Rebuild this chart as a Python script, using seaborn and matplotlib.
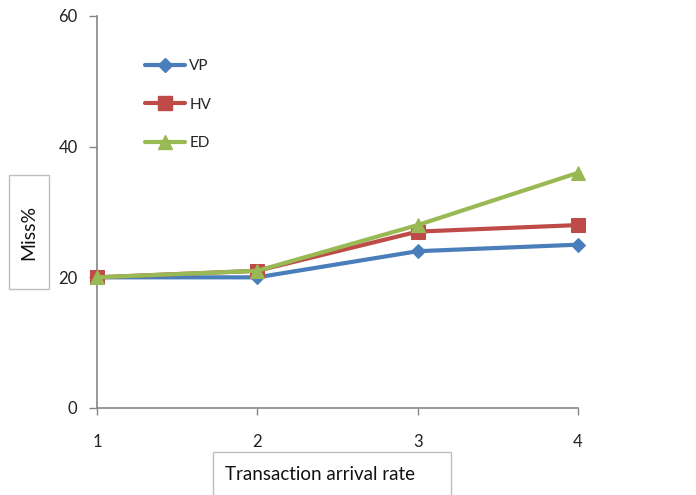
import matplotlib
matplotlib.use("Agg")
import matplotlib.pyplot as plt
from matplotlib.patches import Rectangle
from matplotlib.lines import Line2D
import seaborn as sns
import pandas as pd

# Miss percentage per transaction arrival rate for each policy
arrival_rates = [1, 2, 3, 4]
vp_miss = [20, 20, 24, 25]
hv_miss = [20, 21, 27, 28]
ed_miss = [20, 21, 28, 36]
series_names = ["VP", "HV", "ED"]
y_ticks = [0, 20, 40, 60]

colors = {"VP": "#4A7EBB", "HV": "#BE4B48", "ED": "#98B954"}
markers = {"VP": "D", "HV": "s", "ED": "^"}
marker_sizes = {"VP": 7.5, "HV": 9.5, "ED": 9.5}

df = pd.DataFrame({
    "rate": arrival_rates * 3,
    "miss": vp_miss + hv_miss + ed_miss,
    "series": ["VP"] * 4 + ["HV"] * 4 + ["ED"] * 4,
})

sns.set_style("white")
plt.rcParams["font.family"] = ["Lato", "DejaVu Sans"]

fig = plt.figure(figsize=(6.96, 4.95), dpi=100)
ax = fig.add_axes([97 / 696, 1 - 408 / 495, 481 / 696, 392 / 495])

for name in series_names:
    sub = df[df["series"] == name]
    sns.lineplot(data=sub, x="rate", y="miss", ax=ax, color=colors[name],
                 marker=markers[name], markersize=marker_sizes[name],
                 markeredgecolor=colors[name], linewidth=3.0, legend=False,
                 clip_on=False, zorder=3)

ax.set_xlim(1, 4)
ax.set_ylim(0, 60)
ax.set_xticks(arrival_rates)
ax.set_yticks(y_ticks)
ax.set_xlabel("")
ax.set_ylabel("")

axis_grey = "#868686"
for side in ["top", "right"]:
    ax.spines[side].set_visible(False)
for side in ["left", "bottom"]:
    ax.spines[side].set_color(axis_grey)
    ax.spines[side].set_linewidth(1.2)

ax.tick_params(axis="y", direction="out", length=6, width=1, color=axis_grey,
               labelsize=12, pad=8, labelcolor="#222222", left=True)
ax.tick_params(axis="x", direction="out", length=5, width=1, color=axis_grey,
               labelsize=12, pad=14, labelcolor="#222222", bottom=True)

handles = [Line2D([0], [0], color=colors[n], marker=markers[n],
                  markersize=marker_sizes[n], markeredgecolor=colors[n],
                  linewidth=3.0) for n in series_names]
ax.legend(handles, series_names, loc="upper left",
          bbox_to_anchor=(0.1, 0.89), frameon=False, fontsize=11,
          handlelength=2.6, handletextpad=0.3, labelspacing=1.6,
          borderpad=0, borderaxespad=0)

# Boxed axis titles
box_color = "#BFBFBF"
fig.patches.append(Rectangle((9 / 696, 1 - 289 / 495), 40 / 696, 114 / 495,
                             transform=fig.transFigure, fill=False,
                             edgecolor=box_color, linewidth=1))
fig.text(29 / 696, 1 - 232 / 495, "Miss%", rotation=90, ha="center",
         va="center", fontsize=14, color="#111111")

fig.patches.append(Rectangle((213 / 696, -0.02), 238 / 696, (495 - 452) / 495 + 0.02,
                             transform=fig.transFigure, fill=False,
                             edgecolor=box_color, linewidth=1))
fig.text(225 / 696, 1 - 475 / 495, "Transaction arrival rate", ha="left",
         va="center", fontsize=13.5, color="#111111")

fig.savefig("out.png", dpi=100)
